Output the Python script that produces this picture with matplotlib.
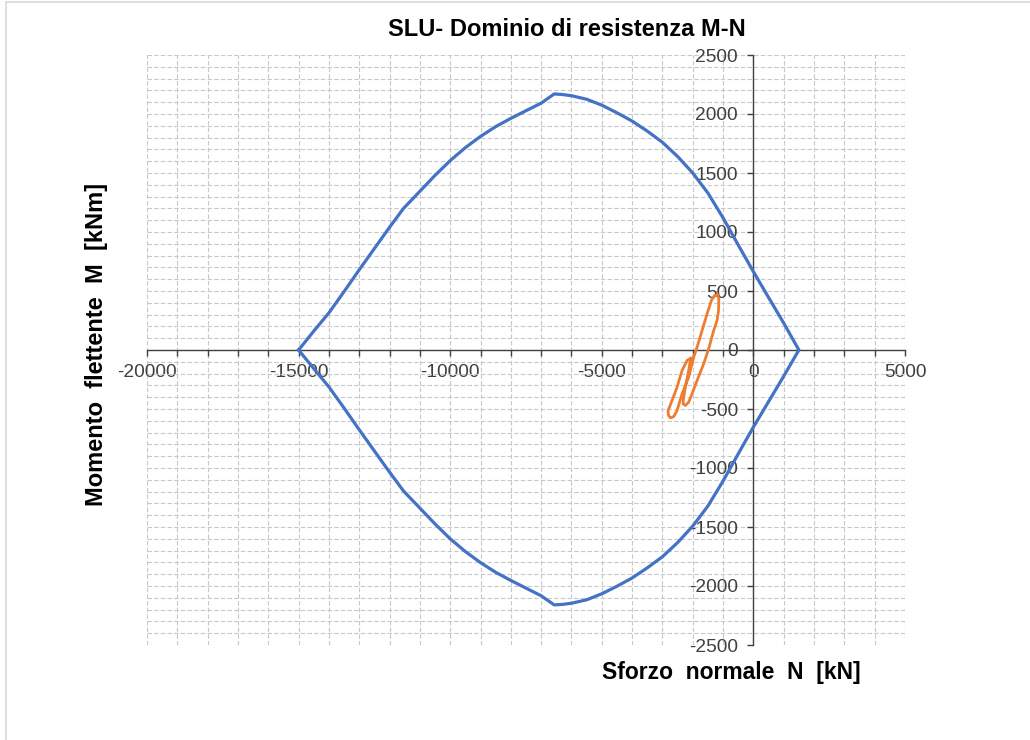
import numpy as np
import matplotlib
matplotlib.use('Agg')
import matplotlib.pyplot as plt
from matplotlib.ticker import MultipleLocator, FuncFormatter
from matplotlib.patches import Rectangle

plt.rcParams['font.family'] = ['Liberation Sans', 'DejaVu Sans']
plt.rcParams['axes.unicode_minus'] = False

# Resistance domain, upper branch (N [kN], M [kNm])
n_upper = [-15000, -14500, -14000, -13500, -13000, -12500, -12000, -11540, -11000, -10500,
           -10000, -9500, -9000, -8500, -8000, -7500, -7000, -6570, -6300, -6000,
           -5500, -5000, -4500, -4000, -3500, -3000, -2500, -2000, -1500, -1000,
           -500, 0, 500, 1000, 1500]
m_upper = [0, 160, 315, 495, 680, 860, 1040, 1200, 1345, 1480,
           1605, 1715, 1810, 1893, 1963, 2028, 2092, 2170, 2165, 2155,
           2125, 2075, 2010, 1940, 1855, 1760, 1640, 1500, 1330, 1120,
           890, 664, 445, 228, 0]

# Resistance domain, lower branch
n_lower = [1500, 1000, 500, 0, -500, -1000, -1500, -2000, -2500, -3000,
           -3500, -4000, -4500, -5000, -5500, -6000, -6300, -6570, -7000, -7500,
           -8000, -8500, -9000, -9500, -10000, -10500, -11000, -11540, -12000, -12500,
           -13000, -13500, -14000, -14500, -15000]
m_lower = [0, -222, -438, -653, -880, -1110, -1322, -1492, -1632, -1752,
           -1846, -1932, -2002, -2066, -2117, -2146, -2156, -2160, -2083, -2018,
           -1953, -1884, -1802, -1708, -1600, -1474, -1340, -1195, -1035, -856,
           -676, -492, -313, -158, 0]

# Acting load path
n_load = [-1254, -1180, -1140, -1150, -1200, -1310, -1475, -1640, -1858, -2023,
          -2135, -2244, -2320, -2300, -2244, -2135, -2079, -2046, -2188, -2353,
          -2518, -2683, -2815, -2800, -2739, -2630, -2518, -2353, -2135, -1970,
          -1858, -1693, -1528, -1386, -1300, -1254]
m_load = [462, 470, 430, 335, 250, 165, 10, -117, -258, -371,
          -442, -470, -455, -400, -315, -174, -89, -66, -89, -174,
          -315, -428, -513, -555, -575, -565, -513, -371, -230, -61,
          24, 165, 307, 419, 455, 462]

x_min, x_max = -20000, 5000
y_min, y_max = -2500, 2500

W, H = 1030, 740
fig = plt.figure(figsize=(W / 100, H / 100), dpi=100)
ax = fig.add_axes([147 / W, 1 - 645 / H, 758 / W, 590 / H])

grid_kw = dict(color='#C8C8C8', linestyle=(0, (4, 2)), linewidth=0.8)
ax.xaxis.set_major_locator(MultipleLocator(5000))
ax.xaxis.set_minor_locator(MultipleLocator(1000))
ax.yaxis.set_major_locator(MultipleLocator(500))
ax.yaxis.set_minor_locator(MultipleLocator(100))
ax.grid(True, which='both', **grid_kw)
ax.set_axisbelow(True)

ax.plot(n_upper + n_lower, m_upper + m_lower, color='#4472C4', linewidth=2.3,
        solid_joinstyle='round', zorder=3)
ax.plot(n_load, m_load, color='#ED7D31', linewidth=2.0,
        solid_joinstyle='round', zorder=4)

ax.set_xlim(x_min, x_max)
ax.set_ylim(y_min, y_max)

# axes crossing at the origin
for side in ['top', 'right']:
    ax.spines[side].set_visible(False)
ax.spines['left'].set_position(('data', 0))
ax.spines['bottom'].set_position(('data', 0))
for side in ['left', 'bottom']:
    ax.spines[side].set_color('#404040')
    ax.spines[side].set_linewidth(1.0)
    ax.spines[side].set_zorder(2.5)

fmt = FuncFormatter(lambda v, p: '%d' % v)
ax.xaxis.set_major_formatter(fmt)
ax.yaxis.set_major_formatter(fmt)
ax.tick_params(axis='x', which='both', direction='out', length=4, width=1.0,
               color='#404040', labelsize=13.8, labelcolor='#404040', pad=6)
ax.tick_params(axis='y', which='major', direction='out', length=4, width=1.0,
               color='#404040', labelsize=13.8, labelcolor='#404040', pad=7)
ax.tick_params(axis='y', which='minor', length=0)

fig.text(567 / W, 1 - 30 / H, 'SLU- Dominio di resistenza M-N', ha='center', va='center',
         fontsize=17, fontweight='bold', color='#000000')
fig.text(731 / W, 1 - 672 / H, 'Sforzo  normale  N  [kN]', ha='center', va='center',
         fontsize=16.5, fontweight='bold', color='#000000')
fig.text(97 / W, 1 - 344 / H, 'Momento  flettente  M  [kNm]', ha='center', va='center',
         rotation=90, fontsize=17, fontweight='bold', color='#000000')

# chart area frame
fig.patches.append(Rectangle((6 / W, -0.1), 1.2, 1.1 - 2 / H, transform=fig.transFigure,
                             fill=False, edgecolor='#D9D9D9', linewidth=1.2))

fig.savefig('out.png', dpi=100)
